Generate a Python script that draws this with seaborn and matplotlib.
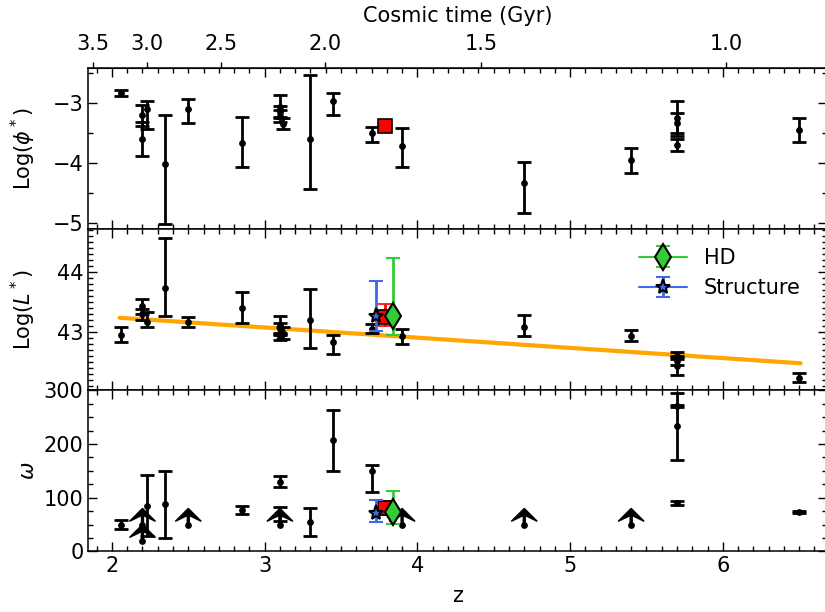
import numpy as np
import pandas as pd
import matplotlib
matplotlib.use('Agg')
import matplotlib.pyplot as plt
import seaborn as sns
from matplotlib.ticker import MultipleLocator, NullLocator

# ---- top panel: Log(phi*) ----
phi_z = [2.06, 2.20, 2.20, 2.23, 2.35, 2.50, 2.85, 3.10, 3.10, 3.10, 3.12,
         3.30, 3.45, 3.70, 3.90, 4.70, 5.40, 5.70, 5.70, 5.70, 6.50]
phi_val = [-2.83, -3.60, -3.21, -3.11, -4.01, -3.11, -3.67, -3.07, -3.16, -3.22, -3.35,
           -3.61, -2.97, -3.51, -3.71, -4.34, -3.95, -3.25, -3.33, -3.70, -3.46]
phi_lo = [0.05, 0.28, 0.18, 0.33, 1.00, 0.22, 0.40, 0.17, 0.10, 0.10, 0.09,
          0.82, 0.24, 0.14, 0.35, 0.49, 0.22, 0.31, 0.18, 0.10, 0.20]
phi_hi = [0.05, 0.28, 0.18, 0.14, 0.80, 0.17, 0.43, 0.20, 0.10, 0.10, 0.09,
          1.08, 0.14, 0.11, 0.29, 0.35, 0.20, 0.28, 0.16, 0.09, 0.20]

# ---- middle panel: Log(L*) ----
lum_z = [2.06, 2.20, 2.20, 2.23, 2.35, 2.50, 2.85, 3.10, 3.10, 3.12, 3.10,
         3.30, 3.45, 3.70, 3.90, 4.70, 5.40, 5.70, 5.70, 5.70, 6.50]
lum_val = [42.96, 43.43, 43.30, 43.17, 43.74, 43.17, 43.41, 43.12, 43.05, 42.98, 42.93,
           43.21, 42.83, 43.06, 42.93, 43.09, 42.94, 42.61, 42.52, 42.44, 42.24]
lum_lo = [0.12, 0.12, 0.09, 0.08, 0.47, 0.08, 0.26, 0.15, 0.10, 0.10, 0.06,
          0.47, 0.19, 0.07, 0.12, 0.15, 0.09, 0.06, 0.07, 0.16, 0.08]
lum_hi = [0.12, 0.12, 0.09, 0.16, 0.83, 0.09, 0.26, 0.15, 0.10, 0.10, 0.06,
          0.51, 0.13, 0.07, 0.13, 0.19, 0.09, 0.06, 0.07, 0.16, 0.08]

# linear fit drawn in the middle panel
fit_z = [2.05, 6.51]
fit_lum = [43.24, 42.48]

# ---- bottom panel: omega ----
om_z = [2.06, 2.23, 2.35, 2.85, 3.10, 3.10, 3.30, 3.45, 3.70, 5.70, 5.70, 5.70, 6.50]
om_val = [50, 85, 88, 77, 130, 70, 54, 207, 150, 233, 270, 90, 74]
om_lo = [8, 56, 63, 7, 10, 13, 26, 57, 39, 62, 2, 3, 2]
om_hi = [8, 57, 62, 7, 10, 13, 26, 57, 11, 62, 2, 3, 2]

# lower limits on omega (arrows)
lim_z = [2.20, 2.20, 2.50, 3.10, 3.90, 4.70, 5.40]
lim_val = [50, 20, 50, 50, 50, 50, 50]
lim_len = 30

# ---- highlighted objects ----
red_z = 3.79
red_phi = -3.39
red_lum, red_lum_err = 43.26, [[0.15], [0.21]]
red_om, red_om_err = 80, [[13], [13]]

hd_z = 3.84
hd_lum, hd_lum_err = 43.27, [[0.31], [0.96]]
hd_om, hd_om_err = 73, [[22], [39]]

st_z = 3.73
st_lum, st_lum_err = 43.27, [[0.25], [0.59]]
st_om, st_om_err = 72, [[18], [24]]

# cosmic time axis
age_labels = ['3.5', '3.0', '2.5', '2.0', '1.5', '1.0']
age_tick_z = [1.873, 2.230, 2.712, 3.394, 4.415, 6.024]

sns.set_style('ticks')
plt.rcParams['font.family'] = ['DejaVu Sans']
plt.rcParams['font.size'] = 15
for key in ['text.color', 'axes.labelcolor', 'xtick.color', 'ytick.color', 'axes.edgecolor']:
    plt.rcParams[key] = 'black'

fig, axes = plt.subplots(3, 1, sharex=True, figsize=(8.25, 6.12), dpi=100)
plt.subplots_adjust(left=0.107, right=1.002, top=0.889, bottom=0.099, hspace=0)

eb = dict(fmt='none', ecolor='k', elinewidth=2, capsize=5, capthick=2, zorder=2)


def black_points(ax, z, val, lo, hi):
    ax.errorbar(z, val, yerr=[lo, hi], **eb)
    df = pd.DataFrame({'z': z, 'val': val})
    sns.scatterplot(data=df, x='z', y='val', color='k', s=24, edgecolor='k',
                    linewidth=0, ax=ax, zorder=3, legend=False)


# top
ax = axes[0]
black_points(ax, phi_z, phi_val, phi_lo, phi_hi)
ax.errorbar([red_z], [red_phi], yerr=[[0.03], [0.03]], fmt='s', color='red', mfc='red',
            mec='k', ms=10, mew=1.2, elinewidth=2, capsize=5, zorder=5)
ax.set_ylim(-5.1, -2.42)
ax.yaxis.set_major_locator(MultipleLocator(1))
ax.yaxis.set_minor_locator(MultipleLocator(0.5))
ax.set_ylabel(r'Log($\phi^*$)')

# middle
ax = axes[1]
black_points(ax, lum_z, lum_val, lum_lo, lum_hi)
sns.lineplot(x=fit_z, y=fit_lum, color='orange', linewidth=3, ax=ax, zorder=1)
ax.errorbar([red_z], [red_lum], yerr=red_lum_err, fmt='s', color='red', mfc='red',
            mec='k', ms=10, mew=1.2, elinewidth=2, capsize=5, capthick=2, zorder=5)
hd = ax.errorbar([hd_z], [hd_lum], yerr=hd_lum_err, fmt='d', ls='-', color='limegreen',
                 mfc='limegreen', mec='k', ms=13, mew=1.5, elinewidth=2, capsize=5,
                 capthick=2, zorder=7, label='HD')
st = ax.errorbar([st_z], [st_lum], yerr=st_lum_err, fmt='*', ls='-', color='royalblue',
                 mfc='royalblue', mec='k', ms=11, mew=1.5, elinewidth=2, capsize=5,
                 capthick=2, zorder=6, label='Structure')
ax.set_ylim(42.03, 44.72)
ax.yaxis.set_major_locator(MultipleLocator(1))
ax.yaxis.set_minor_locator(MultipleLocator(0.1))
ax.set_ylabel(r'Log($L^*$)')
ax.legend(handles=[hd, st], labels=['HD', 'Structure'], loc='upper right',
          bbox_to_anchor=(0.99, 1.0), frameon=False, fontsize=15, handlelength=2.3)

# bottom
ax = axes[2]
black_points(ax, om_z, om_val, om_lo, om_hi)
df_lim = pd.DataFrame({'z': lim_z, 'val': lim_val})
sns.scatterplot(data=df_lim, x='z', y='val', color='k', s=24, linewidth=0, ax=ax,
                zorder=3, legend=False)
for zz, vv in zip(lim_z, lim_val):
    ax.arrow(zz, vv, 0, lim_len, width=0.013, head_width=0.17, head_length=24,
             overhang=0.45, length_includes_head=True, color='k', zorder=3)
ax.errorbar([red_z], [red_om], yerr=red_om_err, fmt='s', color='red', mfc='red',
            mec='k', ms=10, mew=1.2, elinewidth=2, capsize=5, capthick=2, zorder=5)
ax.errorbar([hd_z], [hd_om], yerr=hd_om_err, fmt='d', color='limegreen',
            mfc='limegreen', mec='k', ms=13, mew=1.5, elinewidth=2, capsize=5,
            capthick=2, zorder=7)
ax.errorbar([st_z], [st_om], yerr=st_om_err, fmt='*', color='royalblue',
            mfc='royalblue', mec='k', ms=11, mew=1.5, elinewidth=2, capsize=5,
            capthick=2, zorder=6)
ax.set_ylim(0, 300)
ax.yaxis.set_major_locator(MultipleLocator(100))
ax.yaxis.set_minor_locator(MultipleLocator(25))
ax.set_ylabel(r'$\omega$')
ax.set_xlabel('z', labelpad=7)

for ax in axes:
    ax.set_xlim(1.845, 6.68)
    ax.xaxis.set_major_locator(MultipleLocator(1))
    ax.xaxis.set_minor_locator(MultipleLocator(0.1))
    ax.tick_params(which='both', direction='in', top=True, right=True, labelsize=15)
    ax.tick_params(which='major', length=6.5, width=1)
    ax.tick_params(which='minor', length=3.5, width=1)
    for sp in ax.spines.values():
        sp.set_linewidth(1.1)

sec = axes[0].secondary_xaxis('top')
sec.set_xticks(age_tick_z, labels=age_labels)
sec.xaxis.set_minor_locator(NullLocator())
sec.tick_params(direction='out', length=4.5, width=1, pad=5.5, labelsize=15)
sec.set_xlabel('Cosmic time (Gyr)', fontsize=15, labelpad=8.5)

fig.align_ylabels(axes)
fig.savefig('out.png', dpi=100)
